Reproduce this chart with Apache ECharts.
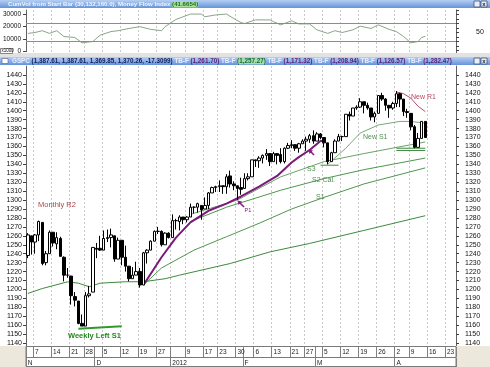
<!DOCTYPE html>
<html><head><meta charset="utf-8">
<script src="https://cdn.jsdelivr.net/npm/echarts/dist/echarts.min.js"></script>
<style>html,body{margin:0;padding:0;background:#fff}#c{width:490px;height:367px}</style>
</head><body><div id="c"></div>
<script>
// ---- categories (trading days) ----
const dates = ['2011-11-03','2011-11-04','2011-11-07','2011-11-08','2011-11-09','2011-11-10','2011-11-11','2011-11-14','2011-11-15','2011-11-16','2011-11-17','2011-11-18','2011-11-21','2011-11-22','2011-11-23','2011-11-25','2011-11-28','2011-11-29','2011-11-30',
'2011-12-01','2011-12-02','2011-12-05','2011-12-06','2011-12-07','2011-12-08','2011-12-09','2011-12-12','2011-12-13','2011-12-14','2011-12-15','2011-12-16','2011-12-19','2011-12-20','2011-12-21','2011-12-22','2011-12-23','2011-12-27','2011-12-28','2011-12-29','2011-12-30',
'2012-01-03','2012-01-04','2012-01-05','2012-01-06','2012-01-09','2012-01-10','2012-01-11','2012-01-12','2012-01-13','2012-01-17','2012-01-18','2012-01-19','2012-01-20','2012-01-23','2012-01-24','2012-01-25','2012-01-26','2012-01-27','2012-01-30','2012-01-31',
'2012-02-01','2012-02-02','2012-02-03','2012-02-06','2012-02-07','2012-02-08','2012-02-09','2012-02-10','2012-02-13','2012-02-14','2012-02-15','2012-02-16','2012-02-17','2012-02-21','2012-02-22','2012-02-23','2012-02-24','2012-02-27','2012-02-28','2012-02-29',
'2012-03-01','2012-03-02','2012-03-05','2012-03-06','2012-03-07','2012-03-08','2012-03-09','2012-03-12','2012-03-13','2012-03-14','2012-03-15','2012-03-16','2012-03-19','2012-03-20','2012-03-21','2012-03-22','2012-03-23','2012-03-26','2012-03-27','2012-03-28','2012-03-29','2012-03-30',
'2012-04-02','2012-04-03','2012-04-04','2012-04-05','2012-04-09','2012-04-10','2012-04-11','2012-04-12','2012-04-13','2012-04-16','2012-04-17','2012-04-18','2012-04-19','2012-04-20','2012-04-23','2012-04-24','2012-04-25'];

// ---- GSPC daily OHLC ----
const open = [1238,1260,1253,1261,1275,1230,1240,1264,1251,1257,1236,1216,1215,1192,1187,1162,1159,1193,1197,
1246,1246,1244,1257,1258,1260,1234,1255,1236,1226,1212,1216,1220,1205,1241,1244,1254,1265,1265,1250,1263,
1258,1277,1276,1281,1278,1281,1292,1292,1294,1290,1294,1308,1314,1315,1316,1315,1327,1318,1316,1314,
1313,1324,1326,1345,1344,1347,1350,1352,1343,1352,1351,1343,1358,1361,1362,1358,1363,1366,1368,1372,
1366,1374,1370,1364,1343,1353,1366,1371,1371,1396,1394,1403,1404,1410,1406,1403,1393,1397,1417,1413,1406,1403,
1408,1419,1413,1399,1397,1382,1359,1369,1388];
const high = [1263,1260,1262,1277,1275,1243,1266,1264,1264,1259,1237,1224,1215,1197,1187,1172,1197,1204,1247,
1252,1260,1266,1267,1268,1260,1258,1255,1249,1226,1225,1231,1224,1242,1245,1255,1266,1270,1266,1264,1264,
1284,1279,1283,1281,1282,1296,1293,1297,1294,1303,1309,1315,1316,1322,1316,1329,1333,1321,1316,1325,
1330,1330,1345,1345,1349,1351,1357,1352,1354,1352,1358,1359,1364,1367,1362,1364,1368,1371,1374,1378,
1376,1375,1370,1364,1354,1368,1374,1372,1396,1399,1403,1406,1414,1410,1409,1403,1399,1417,1420,1414,1406,1410,
1422,1420,1413,1402,1397,1384,1375,1388,1388];
const low = [1235,1239,1240,1254,1227,1227,1240,1248,1245,1237,1209,1213,1183,1181,1161,1159,1159,1191,1197,
1235,1243,1244,1253,1247,1231,1234,1227,1220,1209,1212,1216,1202,1205,1229,1244,1254,1262,1248,1250,1257,
1258,1267,1266,1273,1275,1281,1285,1286,1278,1290,1290,1308,1309,1309,1307,1307,1314,1311,1300,1306,
1313,1322,1326,1337,1336,1341,1345,1338,1343,1340,1341,1341,1357,1358,1355,1353,1363,1355,1364,1363,
1366,1368,1359,1340,1343,1353,1366,1366,1371,1389,1394,1401,1403,1397,1401,1389,1387,1397,1411,1400,1392,1401,
1404,1404,1394,1392,1378,1358,1359,1369,1370];
const close = [1261,1253,1261,1276,1229,1240,1264,1252,1258,1237,1216,1216,1193,1188,1162,1159,1193,1195,1247,
1245,1244,1257,1258,1261,1234,1255,1236,1226,1212,1216,1220,1205,1241,1244,1254,1265,1265,1250,1263,1258,
1277,1277,1281,1278,1281,1292,1292,1296,1289,1294,1308,1314,1315,1316,1315,1326,1318,1316,1313,1312,
1324,1326,1345,1344,1347,1350,1352,1343,1352,1350,1343,1358,1361,1362,1358,1363,1366,1368,1372,1366,
1374,1370,1364,1343,1353,1366,1371,1371,1396,1394,1403,1404,1410,1406,1403,1393,1397,1417,1413,1406,1403,1408,
1419,1413,1399,1398,1382,1359,1369,1388,1370];

// ---- overlay lines (read at key dates) ----
const purpleDates = ['2011-12-20','2011-12-28','2012-01-04','2012-01-10','2012-01-18','2012-01-25','2012-01-31','2012-02-07','2012-02-14','2012-02-21','2012-02-23','2012-02-28','2012-03-02','2012-03-05'];
const purpleVals  = [1205,1236,1258,1275,1288,1296,1304,1315,1327,1342,1348,1356,1366,1366];

const baseDates = ['2011-11-03','2011-11-09','2011-11-18','2011-11-23','2011-11-29','2011-12-02','2011-12-13','2011-12-20','2011-12-29','2012-01-05','2012-01-26','2012-02-10','2012-02-28','2012-03-20','2012-04-13'];
const baseVals  = [1195.5,1201,1208.5,1207,1203,1207,1208.6,1208.6,1212,1216,1229,1242,1251.5,1266,1282.5];

const s1Dates = ['2011-12-20','2011-12-28','2012-01-11','2012-01-25','2012-02-07','2012-02-21','2012-03-05','2012-03-20','2012-04-13'];
const s1Vals  = [1205,1224,1244,1259,1274,1290,1303,1318,1336];

const s2Dates = ['2012-01-10','2012-01-25','2012-02-15','2012-03-05','2012-03-20','2012-04-13'];
const s2Vals  = [1276,1292,1311,1324,1334,1347];

const s3Dates = ['2012-01-10','2012-01-30','2012-02-15','2012-03-05','2012-03-20','2012-04-13'];
const s3Vals  = [1284,1300,1326,1343,1352,1365];

const newS1Dates = ['2012-03-06','2012-03-13','2012-03-19','2012-03-26','2012-04-03','2012-04-09','2012-04-13'];
const newS1Vals  = [1340,1358,1375,1384,1388,1388,1386];

const newR1Dates = ['2012-04-02','2012-04-04','2012-04-09','2012-04-11','2012-04-13'];
const newR1Vals  = [1421,1419,1414,1405,1399];

const weeklyS1Dates = ['2011-11-23','2011-12-12'];
const weeklyS1Vals  = [1156,1158.7];

const marSupDates = ['2012-03-02','2012-03-09'];
const marSupVals  = [1339,1339];
const aprSupADates = ['2012-04-02','2012-04-13'];
const aprSupAVals  = [1358,1358];
const aprSupBDates = ['2012-04-02','2012-04-13'];
const aprSupBVals  = [1355.5,1355.5];

// ---- Money Flow Index (top panel) ----
const mfiDates = ['2011-11-03','2011-11-07','2011-11-09','2011-11-11','2011-11-15','2011-11-17','2011-11-22','2011-11-25','2011-11-30','2011-12-02','2011-12-07','2011-12-09','2011-12-14','2011-12-19','2011-12-22','2011-12-28','2011-12-29','2012-01-04','2012-01-10','2012-01-13','2012-01-17','2012-01-20','2012-01-25','2012-01-27','2012-01-31','2012-02-01','2012-02-06','2012-02-10','2012-02-13','2012-02-15','2012-02-21','2012-02-23','2012-02-28','2012-03-01','2012-03-06','2012-03-08','2012-03-12','2012-03-15','2012-03-19','2012-03-22','2012-03-26','2012-03-29','2012-04-02','2012-04-04','2012-04-09','2012-04-11','2012-04-12','2012-04-13'];
const mfiVals  = [48,50,54,48,54,41,39,27,30,44,52,54,59,63,57,54,63,79,91,91,85,89,91,81,72,70,78,78,74,67,76,69,69,56,48,54,50,56,64,59,67,57,52,41,27,30,39,41.7];

// tick labels
const leftVolTicks = [0,10000,20000,30000];

// ---- derived helpers ----
const dow = d => new Date(d + 'T00:00:00Z').getUTCDay();
const weekStart = dates.map((d,i) => i > 0 && dow(d) <= dow(dates[i-1]));
const monthStart = dates.map((d,i) => i === 0 || d.slice(5,7) !== dates[i-1].slice(5,7));
const yearStart = dates.map((d,i) => i > 0 && d.slice(0,4) !== dates[i-1].slice(0,4));
const weekLabel = dates.map((d,i) => weekStart[i] && !yearStart[i]);
const mLetters = {'01':'J','02':'F','03':'M','04':'A','05':'M','06':'J','07':'J','08':'A','09':'S','10':'O','11':'N','12':'D'};
const ohlc = open.map((o,i) => [o, close[i], low[i], high[i]]);
const pts = (ds, vs) => ds.map((d,i) => [d, vs[i]]);

const FONT = 'Liberation Sans';
const lineS = (name, ds, vs, color, width) => ({
  type:'line', name, xAxisIndex:0, yAxisIndex:0, data: pts(ds, vs), symbol:'none',
  connectNulls:true, lineStyle:{color, width}, z:3, silent:true
});

const chart = echarts.init(document.getElementById('c'), null, {renderer:'canvas'});
const grad = (a,b) => new echarts.graphic.LinearGradient(0,0,0,1,[{offset:0,color:a},{offset:1,color:b}]);
const txt = (x,y,text,fill,size,weight) => ({type:'text', x, y, z:20, style:{text, fill, fontSize:size||7, fontFamily:FONT, fontWeight:weight||'normal', verticalAlign:'middle'}});
const plain = v => String(v);

const richTop = {fontSize:6.1, fontFamily:FONT, fontWeight:'bold'};
const richBase = {fontSize:6.3, fontFamily:FONT, fontWeight:'bold'};
const option = {
  animation:false,
  backgroundColor:'#ffffff',
  grid:[
    {left:26, top:66, width:430, height:286},
    {left:26, top:346, width:430, height:1},
    {left:26, top:357, width:430, height:1},
    {left:26, top:10, width:430, height:45},
    {left:26, top:10, width:430, height:41.7}
  ],
  xAxis:[
    {gridIndex:0, type:'category', data:dates, boundaryGap:true, axisLine:{show:false}, axisTick:{show:false}, axisLabel:{show:false},
     splitLine:{show:true, interval:(i)=>weekStart[i], lineStyle:{color:'#c8c8c8', type:[2,2], width:1}}},
    {gridIndex:1, type:'category', data:dates, boundaryGap:true, position:'bottom', z:60,
     axisLine:{show:false},
     axisTick:{show:true, length:10, interval:(i)=>weekStart[i]||monthStart[i], lineStyle:{color:'#808080', width:1}},
     axisLabel:{show:true, interval:(i)=>weekLabel[i], formatter:(v)=>String(+v.slice(8)), align:'left', margin:2, fontSize:6.5, color:'#222', fontFamily:FONT},
     splitLine:{show:false}},
    {gridIndex:2, type:'category', data:dates, boundaryGap:true, position:'bottom', z:60,
     axisLine:{show:false},
     axisTick:{show:true, length:10, interval:(i)=>monthStart[i], lineStyle:{color:'#808080', width:1}},
     axisLabel:{show:true, interval:(i)=>monthStart[i], formatter:(v,i)=> yearStart[i] ? v.slice(0,4) : mLetters[v.slice(5,7)], align:'left', margin:2, fontSize:6.5, color:'#222', fontFamily:FONT},
     splitLine:{show:false}},
    {gridIndex:3, type:'category', data:dates, boundaryGap:true, axisLine:{show:false}, axisTick:{show:false}, axisLabel:{show:false},
     splitLine:{show:true, interval:(i)=>weekStart[i], lineStyle:{color:'#c8c8c8', type:[2,2], width:1}}},
    {gridIndex:4, type:'category', data:dates, show:false}
  ],
  yAxis:[
    {gridIndex:0, type:'value', position:'left', min:1130, max:1450, interval:10,
     axisLine:{show:true, lineStyle:{color:'#606060'}}, axisTick:{show:true, length:3, lineStyle:{color:'#404040'}},
     axisLabel:{fontSize:7, color:'#111', fontFamily:FONT, margin:4, showMinLabel:false, showMaxLabel:false, formatter:plain},
     splitLine:{show:false}},
    {gridIndex:0, type:'value', position:'right', min:1130, max:1450, interval:10,
     axisLine:{show:true, lineStyle:{color:'#606060'}}, axisTick:{show:true, length:3, lineStyle:{color:'#404040'}},
     axisLabel:{fontSize:7, color:'#111', fontFamily:FONT, margin:9, showMinLabel:false, showMaxLabel:false, formatter:plain},
     splitLine:{show:false}},
    {gridIndex:3, type:'value', position:'right', min:0, max:100, interval:10,
     axisLine:{show:true, lineStyle:{color:'#606060'}}, axisTick:{show:true, length:3, lineStyle:{color:'#404040'}},
     axisLabel:{fontSize:7, color:'#111', fontFamily:FONT, margin:20, formatter:(v)=> v===50 ? '50' : ''},
     splitLine:{show:false}},
    {gridIndex:4, type:'value', position:'left', min:0, max:33000, interval:10000,
     axisLine:{show:true, lineStyle:{color:'#606060'}}, axisTick:{show:true, length:3, lineStyle:{color:'#404040'}},
     axisLabel:{fontSize:6.5, color:'#111', fontFamily:FONT, margin:5, showMaxLabel:false,
       formatter:(v)=> leftVolTicks.includes(v) ? String(v) : ''},
     splitLine:{show:false}},
    {gridIndex:1, type:'value', show:false},
    {gridIndex:2, type:'value', show:false}
  ],
  series:[
    {type:'candlestick', name:'GSPC', xAxisIndex:0, yAxisIndex:0, data:ohlc, barWidth:3, z:4,
     itemStyle:{color:'#ffffff', color0:'#000000', borderColor:'#000000', borderColor0:'#000000', borderWidth:1}},
    lineS('base', baseDates, baseVals, '#3d8a3d', 1),
    lineS('S1', s1Dates, s1Vals, '#4f964f', 1),
    lineS('S2 Cal.', s2Dates, s2Vals, '#4f964f', 1),
    lineS('S3', s3Dates, s3Vals, '#6aa26a', 1),
    lineS('New S1', newS1Dates, newS1Vals, '#78a878', 1),
    lineS('New R1', newR1Dates, newR1Vals, '#b2506a', 1),
    lineS('Pivot', purpleDates, purpleVals, '#7a1a7a', 2),
    lineS('Weekly Left S1', weeklyS1Dates, weeklyS1Vals, '#2f9a2f', 2),
    lineS('supM', marSupDates, marSupVals, '#3d8a3d', 1),
    lineS('supA', aprSupADates, aprSupAVals, '#3d8a3d', 1),
    lineS('supB', aprSupBDates, aprSupBVals, '#3d8a3d', 1),
    {type:'line', name:'MFI', xAxisIndex:3, yAxisIndex:2, data:pts(mfiDates, mfiVals), symbol:'none', connectNulls:true,
     lineStyle:{color:'#8aa48a', width:1}, silent:true,
     markLine:{silent:true, symbol:'none', label:{show:false}, lineStyle:{color:'#8c8c8c', type:'solid', width:1},
       data:[{yAxis:70},{yAxis:30}]}}
  ],
  graphic:[
    {type:'rect', z:50, shape:{x:0,y:346,width:26,height:21}, style:{fill:'#ece9dc'}},
    {type:'rect', z:50, shape:{x:456,y:346,width:34,height:21}, style:{fill:'#ece9dc'}},
    {type:'rect', z:50, shape:{x:26,y:346.5,width:430,height:20}, style:{fill:'#ffffff', stroke:'#7a7a7a', lineWidth:1}},
    {type:'line', z:51, shape:{x1:26,y1:357.5,x2:456,y2:357.5}, style:{stroke:'#7a7a7a', lineWidth:1}},
    {type:'rect', z:50, shape:{x:0,y:53,width:490,height:4}, style:{fill:'#e2e2e2'}},
    {type:'rect', z:51, shape:{x:0,y:0,width:490,height:8}, style:{fill:grad('#b5cff3','#6593da')}},
    {type:'text', z:52, x:8, y:4.3, style:{text:'{a|CumVol from Start Bar (30,132,160.0), Money Flow Index }{g|(41.6654)}', verticalAlign:'middle',
      rich:{a:Object.assign({fill:'#eef4ff'}, richTop), g:Object.assign({fill:'#1d6e1d', backgroundColor:'#a9df9e'}, richTop)}}},
    {type:'rect', z:52, shape:{x:474,y:1,width:6,height:6}, style:{fill:'#e8eef8', stroke:'#40507a', lineWidth:0.8}},
    {type:'rect', z:52, shape:{x:481,y:1,width:6,height:6}, style:{fill:'#e8eef8', stroke:'#40507a', lineWidth:0.8}},
    {type:'text', z:53, x:482.3, y:4.2, style:{text:'x', fill:'#223', fontSize:6, fontFamily:FONT, fontWeight:'bold', verticalAlign:'middle'}},
    {type:'rect', z:51, shape:{x:0,y:57,width:490,height:8}, style:{fill:grad('#b5cff3','#6593da')}},
    {type:'rect', z:52, shape:{x:2,y:58.5,width:6,height:5}, style:{fill:'#ffffff', stroke:'#506080', lineWidth:0.6}},
    {type:'text', z:52, x:12, y:61.3, style:{verticalAlign:'middle',
      text:'{l|GSPC }{d|(1,387.61, 1,387.61, 1,369.85, 1,370.26, -17.3099)}{l| TB-F }{p|(1,261.70)}{l| TB-F }{g|(1,257.27)}{l| TB-F }{p|(1,171.32)}{l| TB-F }{p|(1,208.94)}{l| TB-F }{p|(1,126.57)}{l| TB-F }{p|(1,282.47)}',
      rich:{l:Object.assign({fill:'#e6efff'}, richBase), d:Object.assign({fill:'#10205a'}, richBase), p:Object.assign({fill:'#5a1e78'}, richBase),
            g:Object.assign({fill:'#0f6a4a', backgroundColor:'#a9df9e'}, richBase)}}},
    {type:'rect', z:52, shape:{x:474,y:58,width:6,height:6}, style:{fill:'#e8eef8', stroke:'#40507a', lineWidth:0.8}},
    {type:'rect', z:52, shape:{x:481,y:58,width:6,height:6}, style:{fill:'#e8eef8', stroke:'#40507a', lineWidth:0.8}},
    {type:'text', z:53, x:482.3, y:61.2, style:{text:'x', fill:'#223', fontSize:6, fontFamily:FONT, fontWeight:'bold', verticalAlign:'middle'}},
    {type:'rect', z:52, shape:{x:0.5,y:48.5,width:12,height:5}, style:{fill:'#ffffff', stroke:'#404040', lineWidth:0.6}},
    {type:'text', z:53, x:1.5, y:51.2, style:{text:'x1000', fill:'#111', fontSize:4.5, fontFamily:FONT, verticalAlign:'middle'}},
    txt(38, 204.5, 'Monthly R2', '#a54848', 7.5),
    txt(68, 335.5, 'Weekly Left S1', '#1f8a1f', 7.5, 'bold'),
    txt(411, 97, 'New R1', '#b2485e', 7),
    txt(363, 137.5, 'New S1', '#4f8f4f', 7),
    txt(307, 169.5, 'S3', '#4f8f4f', 7),
    txt(312, 180.5, 'S2 Cal.', '#4f8f4f', 7),
    txt(316, 197.5, 'S1', '#4f8f4f', 7),
    txt(244.5, 210.5, 'P1', '#7a1a7a', 5.5),
    {type:'line', z:20, shape:{x1:244,y1:207,x2:239,y2:202}, style:{stroke:'#8a1a8a', lineWidth:1.6}},
    {type:'polygon', z:20, shape:{points:[[237.5,200.5],[242,201.5],[238.5,205]]}, style:{fill:'#8a1a8a'}},
    {type:'line', z:20, shape:{x1:314,y1:155,x2:310,y2:151}, style:{stroke:'#8a1a8a', lineWidth:1.6}},
    {type:'polygon', z:20, shape:{points:[[308.5,149.5],[313,150.5],[309.5,154]]}, style:{fill:'#8a1a8a'}}
  ]
};
chart.setOption(option);
</script>
</body></html>
